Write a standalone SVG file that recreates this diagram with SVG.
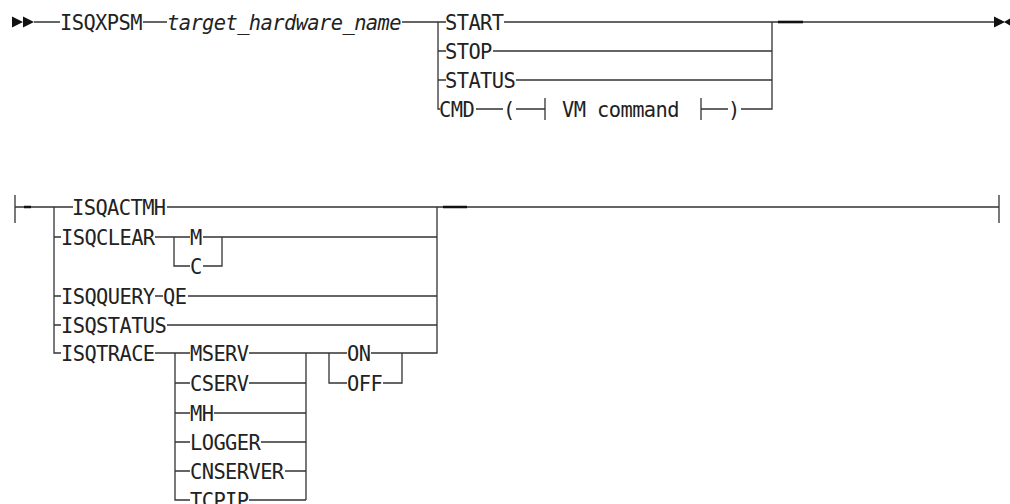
<svg xmlns="http://www.w3.org/2000/svg" width="1010" height="504" viewBox="0 0 1010 504">
<style>
text{font-family:"DejaVu Sans Mono","Liberation Mono",monospace;font-size:20.4px;letter-spacing:-0.58px;fill:#222}
.it{font-style:italic}
.c{fill:none;stroke:#333;stroke-width:1.3}
.d{fill:none;stroke:#111;stroke-width:2.6}
.a{fill:#111}
</style>
<rect width="1010" height="504" fill="#fff"/>
<g id="connectors">
<polygon class="a" points="12,16.5 23,22 12,27.5"/>
<polygon class="a" points="23,16.5 34,22 23,27.5"/>
<path class="c" d="M34 22H60M143 22H167M402 22H446M504 22H994"/>
<path class="d" d="M778 22H803"/>
<polygon class="a" points="994,16.5 1005,22 994,27.5"/>
<polygon class="a" points="1010,18.5 1004,22 1010,25.5"/>
<path class="c" d="M438 22V109H440"/>
<path class="c" d="M438 51H446M493 51H772"/>
<path class="c" d="M438 80H446M516 80H772"/>
<path class="c" d="M476 109H503M516 109H545M545 98V120M701 98V120M701 109H728M741 109H772V22"/>
<path class="c" d="M15 195V223M15 207H73M167 207H999M999 195V223"/>
<path class="d" d="M24 207H31M443 207H467"/>
<path class="c" d="M54 207V353H61M54 237H61M54 296H61M54 325H61"/>
<path class="c" d="M155 237H190M174 237V266H190M203 237H222V266H203M222 237H437"/>
<path class="c" d="M155 296H163M188 296H437"/>
<path class="c" d="M167 325H437"/>
<path class="c" d="M155 353H190M175 353V500H190M175 383H190M175 413H190M175 442H190M175 471H190"/>
<path class="c" d="M249 353H306M249 383H306M214 413H306M261 442H306M285 471H306M249 500H306M306 353V500"/>
<path class="c" d="M306 353H347M329 353V383H347M371 353H402M383 383H402V353M402 353H437V207"/>
</g>
<g id="n-ISQXPSM"><text x="60" y="29.5">ISQXPSM</text></g>
<g id="n-target"><text class="it" x="167" y="29.5">target_hardware_name</text></g>
<g id="n-START"><text x="445" y="29.5">START</text></g>
<g id="n-STOP"><text x="445" y="58.5">STOP</text></g>
<g id="n-STATUS"><text x="445" y="87.5">STATUS</text></g>
<g id="n-CMD"><text x="439" y="116.5">CMD</text></g>
<g id="n-lp"><text x="503" y="116.5">(</text></g>
<g id="n-vm"><text x="562" y="116.5">VM command</text></g>
<g id="n-rp"><text x="728" y="116.5">)</text></g>
<g id="n-ISQACTMH"><text x="72" y="214.5">ISQACTMH</text></g>
<g id="n-ISQCLEAR"><text x="61" y="244.5">ISQCLEAR</text></g>
<g id="n-M"><text x="190" y="244.5">M</text></g>
<g id="n-C"><text x="190" y="273.5">C</text></g>
<g id="n-ISQQUERY"><text x="61" y="303.5">ISQQUERY</text></g>
<g id="n-QE"><text x="163" y="303.5">QE</text></g>
<g id="n-ISQSTATUS"><text x="61" y="332.5">ISQSTATUS</text></g>
<g id="n-ISQTRACE"><text x="61" y="360.5">ISQTRACE</text></g>
<g id="n-MSERV"><text x="190" y="360.5">MSERV</text></g>
<g id="n-CSERV"><text x="190" y="390.5">CSERV</text></g>
<g id="n-MH"><text x="190" y="420.5">MH</text></g>
<g id="n-LOGGER"><text x="190" y="449.5">LOGGER</text></g>
<g id="n-CNSERVER"><text x="190" y="478.5">CNSERVER</text></g>
<g id="n-TCPIP"><text x="190" y="507.5">TCPIP</text></g>
<g id="n-ON"><text x="347" y="360.5">ON</text></g>
<g id="n-OFF"><text x="347" y="390.5">OFF</text></g>
</svg>
